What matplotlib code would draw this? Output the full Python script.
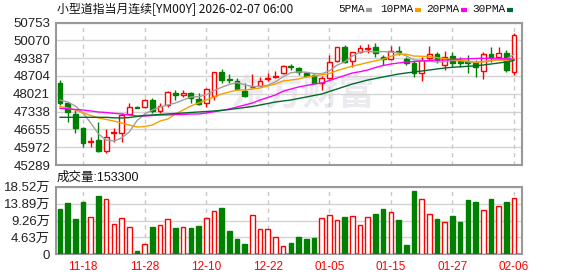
import numpy as np
import matplotlib
matplotlib.use("Agg")
import matplotlib.pyplot as plt
from matplotlib.lines import Line2D

# ---- data ----
open_ = [48447, 47656, 47246, 46697, 46160, 46248, 45838, 46505, 46528, 47234,
         47530, 47526, 47783, 47372, 47591, 48040, 47967, 48063, 47821, 47656,
         47937, 48846, 48580, 48524, 48140, 48270, 48320, 48580, 48680, 48808,
         49100, 49022, 48808, 48742, 48447, 48616, 49291, 49805, 49291, 49636,
         49740, 49828, 49420, 49345, 49675, 49356, 49191, 48808, 49383, 49548,
         49126, 49471, 49280, 49290, 49191, 48907, 49548, 49444, 49598, 48869]
close = [47656, 47311, 46697, 46122, 46221, 45838, 46352, 46555, 47208, 47503,
         47480, 47783, 47372, 47564, 48101, 47975, 48063, 47848, 47630, 48194,
         48846, 48550, 48560, 48194, 47948, 48290, 48524, 48620, 48720, 49088,
         49060, 48846, 48704, 48424, 48616, 49253, 49805, 49253, 49613, 49767,
         49760, 49575, 49345, 49675, 49613, 49191, 48808, 49318, 49548, 49318,
         49422, 49191, 49200, 49215, 49038, 49548, 49444, 49575, 48934, 50277]
high = [48550, 47718, 47399, 46759, 46375, 46950, 46659, 46697, 47273, 47679,
        47560, 47821, 47848, 47656, 48140, 48167, 48167, 48101, 48063, 48255,
        48869, 48961, 48769, 48616, 48424, 48769, 48654, 48830, 48907, 49126,
        49153, 49063, 48869, 48780, 48704, 49510, 49830, 49893, 49637, 49893,
        49932, 49958, 49510, 49855, 49855, 49444, 49291, 49444, 49855, 49637,
        49675, 49637, 49422, 49510, 49318, 49637, 49805, 49805, 49700, 50342]
low = [47591, 46950, 46528, 45991, 45991, 45799, 45761, 46183, 46183, 47208,
       47460, 47464, 47296, 47273, 47526, 47783, 47887, 47656, 47591, 47526,
       47800, 48424, 48424, 48167, 47910, 48232, 48294, 48524, 48616, 48769,
       48934, 48742, 48654, 48390, 48167, 48577, 49253, 49191, 49061, 49575,
       49575, 49444, 49126, 49318, 49510, 49126, 48677, 48524, 49318, 49191,
       48934, 49061, 49061, 48808, 48654, 48577, 49253, 49383, 48869, 48742]
volume = [124100, 140600, 96700, 143300, 101400, 159700, 150700, 83000, 98600, 74000,
          9000, 28200, 74800, 80300, 95900, 72100, 74000, 72100, 77500, 98600,
          117800, 126900, 63800, 41900, 28200, 106900, 68500, 68500, 46600, 21900,
          31800, 47400, 41900, 44700, 98600, 106900, 93200, 102200, 104100, 79500,
          101400, 110400, 124100, 115100, 94000, 25500, 173400, 150700, 110400, 96700,
          87700, 104900, 88500, 148800, 143300, 120600, 151500, 132300, 143300, 153300]

ma5 = [47783, 47706, 47553, 47284, 46901, 46479, 46248, 46210, 46325, 46555,
       46990, 47246, 47399, 47514, 47591, 47668, 47783, 47898, 47910, 47980,
       48140, 48270, 48380, 48450, 48370, 48295, 48310, 48350, 48480, 48680,
       48830, 48860, 48850, 48800, 48790, 48900, 49120, 49250, 49470, 49620,
       49650, 49630, 49640, 49625, 49590, 49475, 49320, 49300, 49270, 49240,
       49260, 49300, 49290, 49255, 49227, 49260, 49300, 49340, 49350, 49530]
ma10 = [47533, 47476, 47399, 47284, 47188, 47092, 47035, 46977, 46901, 46824,
        46747, 46766, 46824, 46977, 47054, 47246, 47399, 47553, 47668, 47783,
        47898, 48013, 48090, 48167, 48167, 48205, 48243, 48320, 48397, 48512,
        48550, 48589, 48666, 48704, 48750, 48800, 48910, 49000, 49080, 49150,
        49220, 49290, 49350, 49460, 49540, 49540, 49470, 49460, 49450, 49410,
        49370, 49330, 49310, 49270, 49230, 49240, 49290, 49320, 49290, 49360]
ma20 = [47465, 47445, 47418, 47399, 47361, 47323, 47303, 47273, 47246, 47208,
        47169, 47169, 47188, 47208, 47208, 47227, 47227, 47246, 47246, 47284,
        47334, 47380, 47438, 47514, 47591, 47668, 47783, 47879, 47975, 48120,
        48205, 48282, 48339, 48397, 48435, 48531, 48627, 48723, 48819, 48870,
        48934, 49030, 49107, 49164, 49203, 49241, 49260, 49280, 49299, 49318,
        49318, 49337, 49356, 49364, 49376, 49383, 49383, 49376, 49364, 49345]
ma30 = [47119, 47119, 47119, 47119, 47119, 47119, 47119, 47100, 47092, 47111,
        47150, 47188, 47208, 47227, 47246, 47265, 47284, 47303, 47323, 47342,
        47361, 47388, 47418, 47457, 47495, 47533, 47591, 47649, 47706, 47745,
        47783, 47841, 47898, 47956, 48013, 48109, 48205, 48301, 48397, 48474,
        48550, 48608, 48666, 48723, 48781, 48819, 48857, 48896, 48934, 48973,
        49011, 49038, 49057, 49076, 49095, 49126, 49164, 49203, 49241, 49300]

price_ticks = [45289, 45972, 46655, 47338, 48021, 48704, 49387, 50070, 50753]
vol_ticks = [0, 46300, 92600, 138900, 185200]
vol_tick_labels = ['0', '4.63万', '9.26万', '13.89万', '18.52万']
date_idx = [3, 11, 19, 27, 35, 43, 51, 59]
date_labels = ['11-18', '11-28', '12-10', '12-22', '01-05', '01-15', '01-27', '02-06']

RED = '#ff0000'
GREEN = '#008000'
GRID = '#d4d4d4'
FRAME = '#999999'
CJK = ['Liberation Sans', 'Noto Sans CJK SC']

o = np.array(open_)
c = np.array(close)
h = np.array(high)
l = np.array(low)
x = np.arange(len(o))
up = c >= o

W, H = 578, 276
fig = plt.figure(figsize=(W / 100, H / 100), dpi=100)
ax = fig.add_axes([55.7 / W, (H - 165) / H, 466.6 / W, 142.4 / H])
axv = fig.add_axes([55.7 / W, (H - 254.3) / H, 466.6 / W, 67.6 / H])

# watermark
ax.text(0.53, 0.5, '东方财富', transform=ax.transAxes, ha='center', va='center',
        fontsize=26, fontweight='bold', color='#ebebef', family='Noto Sans CJK SC',
        zorder=0)

# candles
ax.vlines(x[up], l[up], h[up], color=RED, lw=1, zorder=2)
ax.vlines(x[~up], l[~up], h[~up], color=GREEN, lw=1, zorder=2)
body_lo = np.minimum(o, c)
body_h = np.maximum(np.abs(c - o), 18)
ax.bar(x[up], body_h[up], bottom=body_lo[up], width=0.62, facecolor='white',
       edgecolor=RED, lw=1, zorder=3)
ax.bar(x[~up], body_h[~up], bottom=body_lo[~up], width=0.62, facecolor=GREEN,
       edgecolor=GREEN, lw=1, zorder=3)

# moving averages
ax.plot(x, ma5, color='#a0a0a0', lw=1, zorder=4)
ax.plot(x, ma10, color='#f5a000', lw=1, zorder=4)
ax.plot(x, ma20, color='#ff00ff', lw=1, zorder=4)
ax.plot(x, ma30, color='#006b30', lw=1, zorder=4)

# volume
v = np.array(volume)
axv.bar(x[up], v[up], width=0.6, facecolor='white', edgecolor=RED, lw=1, zorder=3)
axv.bar(x[~up], v[~up], width=0.6, facecolor=GREEN, edgecolor=GREEN, lw=1, zorder=3)

for a in (ax, axv):
    a.set_xlim(-0.56, 60.08)
    for d in date_idx:
        a.axvline(d, color='#c8c8c8', lw=1, ls=(0, (3, 3)), zorder=1)
    a.yaxis.grid(True, color=GRID, lw=1, zorder=1)
    a.set_axisbelow(True)
    a.tick_params(length=0, pad=4)
    for s in a.spines.values():
        s.set_color(FRAME)
        s.set_linewidth(1.5)

ax.set_ylim(price_ticks[0], price_ticks[-1])
ax.set_yticks(price_ticks)
ax.set_yticklabels([str(t) for t in price_ticks], fontsize=9.5,
                   family='Liberation Sans', color='#222222')
ax.set_xticks([])

axv.set_ylim(vol_ticks[0], vol_ticks[-1])
axv.set_yticks(vol_ticks)
axv.set_yticklabels(vol_tick_labels, fontsize=9.5, family=CJK, color='#222222')
axv.set_xticks(date_idx)
axv.set_xticklabels(date_labels, fontsize=8.5, family='Liberation Sans', color=RED)
axv.tick_params(axis='x', pad=5)

# header texts
fig.text(57 / W, 1 - 9.5 / H, '小型道指当月连续[YM00Y] 2026-02-07 06:00', ha='left',
         va='center', fontsize=8.6, family=['Noto Sans CJK SC'], color='#111111')
fig.text(57 / W, 1 - 178 / H, '成交量:153300', ha='left', va='center',
         fontsize=9, family=CJK, color='#111111')

legend = [('5PMA', '#a0a0a0', 338), ('10PMA', '#f5a000', 380),
          ('20PMA', '#ff00ff', 426), ('30PMA', '#006b30', 472)]
for name, col, px in legend:
    t = fig.text(px / W, 1 - 9.5 / H, name, ha='left', va='center', fontsize=8,
                 family='Liberation Mono', color='#111111')
    end = px + 6.3 * len(name) + 3
    fig.add_artist(Line2D([end / W, (end + 6) / W], [1 - 10 / H, 1 - 10 / H],
                          color=col, lw=3, solid_capstyle='butt'))

fig.savefig('out.png', dpi=100)
